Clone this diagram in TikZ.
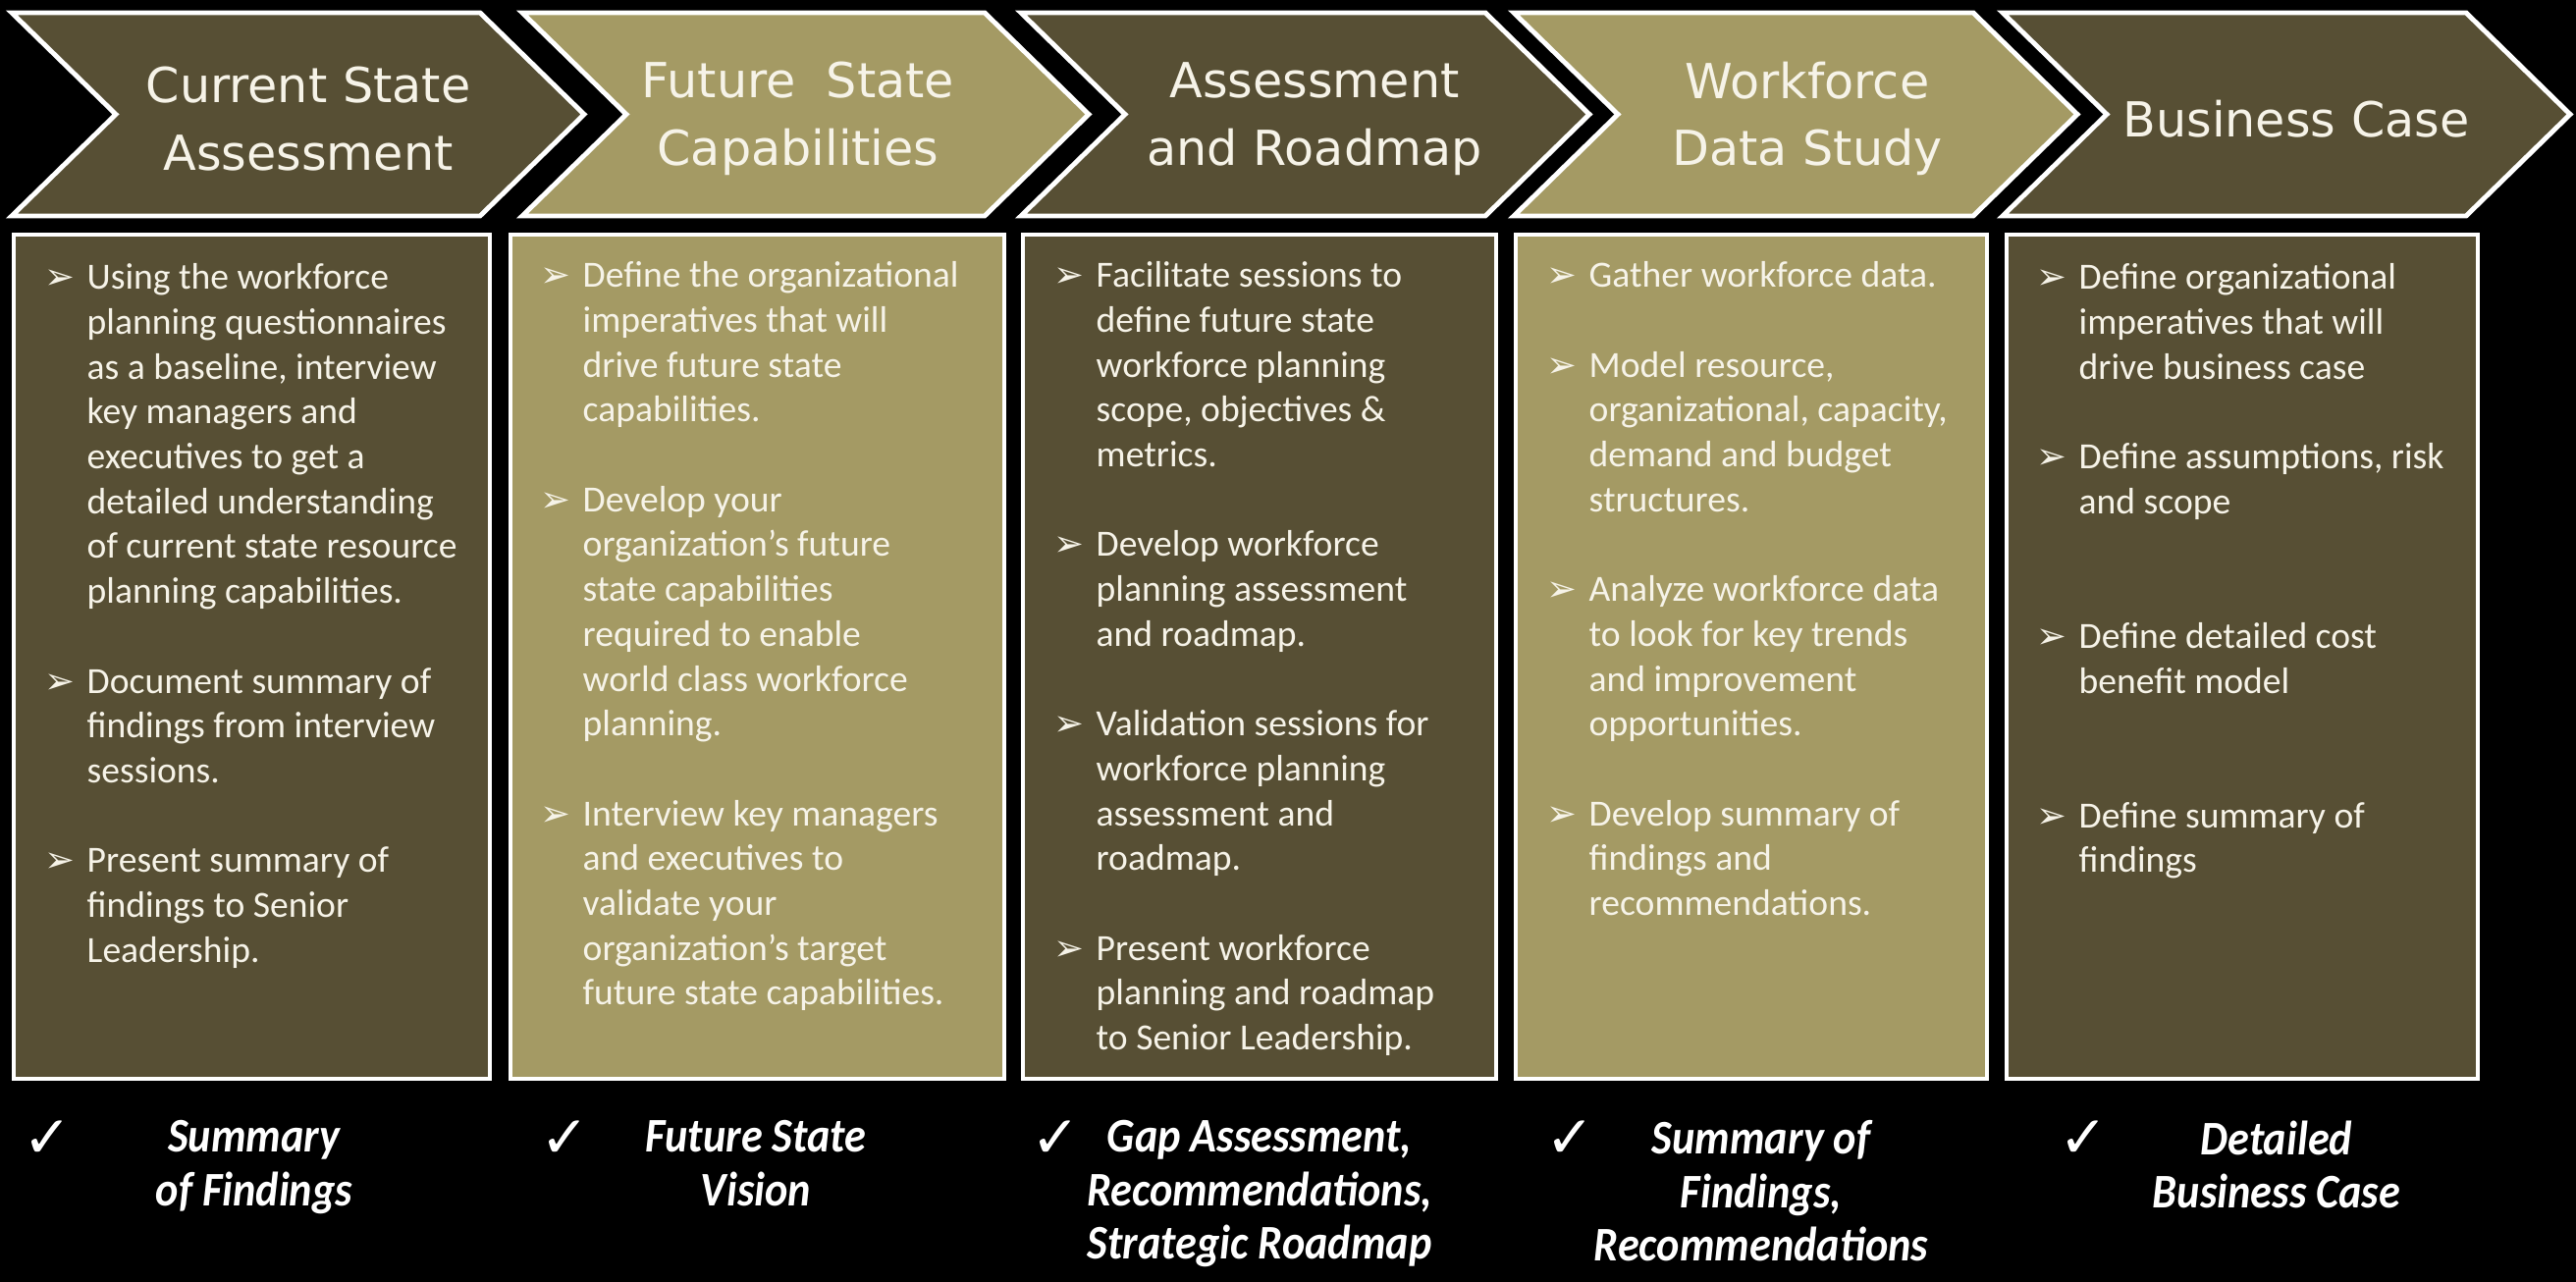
\documentclass[tikz,border=0pt]{standalone}
\usepackage{fontspec}
\setmainfont{Carlito}
\newfontfamily\titlefont{DejaVu Sans}
\newfontfamily\outfont[FakeStretch=0.9]{Carlito}
\usetikzlibrary{positioning}
\definecolor{oliveDark}{RGB}{87, 79, 52}
\definecolor{oliveLight}{RGB}{164, 154, 100}
\definecolor{creamText}{RGB}{246, 243, 232}
\newcommand{\bul}{\llap{{\titlefont\fontsize{10.5}{10.5}\selectfont ➢}\hspace{3.5pt}}}

\begin{document}
\begin{tikzpicture}[
    chevron/.style={draw=white, line width=1.4pt},
    panel/.style={draw=white, line width=1.3pt},
    title/.style={text=creamText, align=center, font=\titlefont\fontsize{14}{19.5}\selectfont},
    items/.style={anchor=north west, inner sep=0pt, align=left, text=creamText, font=\fontsize{10.7}{13}\selectfont},
    tick/.style={text=white, font=\titlefont\fontsize{17}{17}\selectfont},
    outcome/.style={anchor=north, inner sep=0pt, align=center, text=white, font=\outfont\bfseries\itshape\fontsize{14}{15.4}\selectfont}
  ]
  \useasboundingbox (0,0) rectangle (26.24,-13.06);
  \fill[black] (0,0) rectangle (26.24,-13.06);

  % phase arrows
  \draw[chevron, fill=oliveDark] (0.12,-0.13) -- (4.89,-0.13) -- (5.95,-1.165) -- (4.89,-2.20) -- (0.12,-2.20) -- (1.18,-1.165) -- cycle;
  \draw[chevron, fill=oliveLight] (5.32,-0.13) -- (10.03,-0.13) -- (11.09,-1.165) -- (10.03,-2.20) -- (5.32,-2.20) -- (6.38,-1.165) -- cycle;
  \draw[chevron, fill=oliveDark] (10.40,-0.13) -- (15.13,-0.13) -- (16.19,-1.165) -- (15.13,-2.20) -- (10.40,-2.20) -- (11.46,-1.165) -- cycle;
  \draw[chevron, fill=oliveLight] (15.42,-0.13) -- (20.10,-0.13) -- (21.16,-1.165) -- (20.10,-2.20) -- (15.42,-2.20) -- (16.48,-1.165) -- cycle;
  \draw[chevron, fill=oliveDark] (20.40,-0.13) -- (25.12,-0.13) -- (26.18,-1.165) -- (25.12,-2.20) -- (20.40,-2.20) -- (21.46,-1.165) -- cycle;

  \node[title] (t1) at (3.14,-1.21) {Current State\\Assessment};
  \node[title] (t2) at (8.13,-1.21) {Future\ \ State\\Capabilities};
  \node[title] (t3) at (13.39,-1.21) {Assessment\\and Roadmap};
  \node[title] (t4) at (18.41,-1.21) {Workforce\\Data Study};
  \node[title] (t5) at (23.39,-1.21) {Business Case};

  % activity panels
  \draw[panel, fill=oliveDark] (0.14,-2.39) rectangle (4.99,-10.99);
  \draw[panel, fill=oliveLight] (5.20,-2.39) rectangle (10.23,-10.99);
  \draw[panel, fill=oliveDark] (10.42,-2.39) rectangle (15.24,-10.99);
  \draw[panel, fill=oliveLight] (15.44,-2.39) rectangle (20.24,-10.99);
  \draw[panel, fill=oliveDark] (20.44,-2.39) rectangle (25.24,-10.99);

  \node[items] (p1) at (0.88,-2.68) {\bul Using the workforce\\planning questionnaires\\as a baseline, interview\\key managers and\\executives to get a\\detailed understanding\\of current state resource\\planning capabilities.\\[13pt]
    \bul Document summary of\\findings from interview\\sessions.\\[13pt]
    \bul Present summary of\\findings to Senior\\Leadership.};
  \node[items] (p2) at (5.93,-2.66) {\bul Define the organizational\\imperatives that will\\drive future state\\capabilities.\\[13pt]
    \bul Develop your\\organization’s future\\state capabilities\\required to enable\\world class workforce\\planning.\\[13pt]
    \bul Interview key managers\\and executives to\\validate your\\organization’s target\\future state capabilities.};
  \node[items] (p3) at (11.16,-2.66) {\bul Facilitate sessions to\\define future state\\workforce planning\\scope, objectives \&\\metrics.\\[13pt]
    \bul Develop workforce\\planning assessment\\and roadmap.\\[13pt]
    \bul Validation sessions for\\workforce planning\\assessment and\\roadmap.\\[13pt]
    \bul Present workforce\\planning and roadmap\\to Senior Leadership.};
  \node[items] (p4) at (16.18,-2.66) {\bul Gather workforce data.\\[13pt]
    \bul Model resource,\\organizational, capacity,\\demand and budget\\structures.\\[13pt]
    \bul Analyze workforce data\\to look for key trends\\and improvement\\opportunities.\\[13pt]
    \bul Develop summary of\\findings and\\recommendations.};
  \node[items] (p5) at (21.17,-2.68) {\bul Define organizational\\imperatives that will\\drive business case\\[13pt]
    \bul Define assumptions, risk\\and scope\\[26pt]
    \bul Define detailed cost\\benefit model\\[26pt]
    \bul Define summary of\\findings};

  % deliverables
  \node[tick] (ck1) at (0.49,-11.61) {✓};
  \node[tick] (ck2) at (5.76,-11.61) {✓};
  \node[tick] (ck3) at (10.76,-11.61) {✓};
  \node[tick] (ck4) at (16.00,-11.61) {✓};
  \node[tick] (ck5) at (21.23,-11.61) {✓};

  \node[outcome] (out1) at (2.59,-11.41) {Summary\\of Findings};
  \node[outcome] (out2) at (7.70,-11.41) {Future State\\Vision};
  \node[outcome] (out3) at (12.83,-11.41) {Gap Assessment,\\Recommendations,\\Strategic Roadmap};
  \node[outcome] (out4) at (17.94,-11.41) {Summary of\\Findings,\\Recommendations};
  \node[outcome] (out5) at (23.19,-11.41) {Detailed\\Business Case};
\end{tikzpicture}
\end{document}
